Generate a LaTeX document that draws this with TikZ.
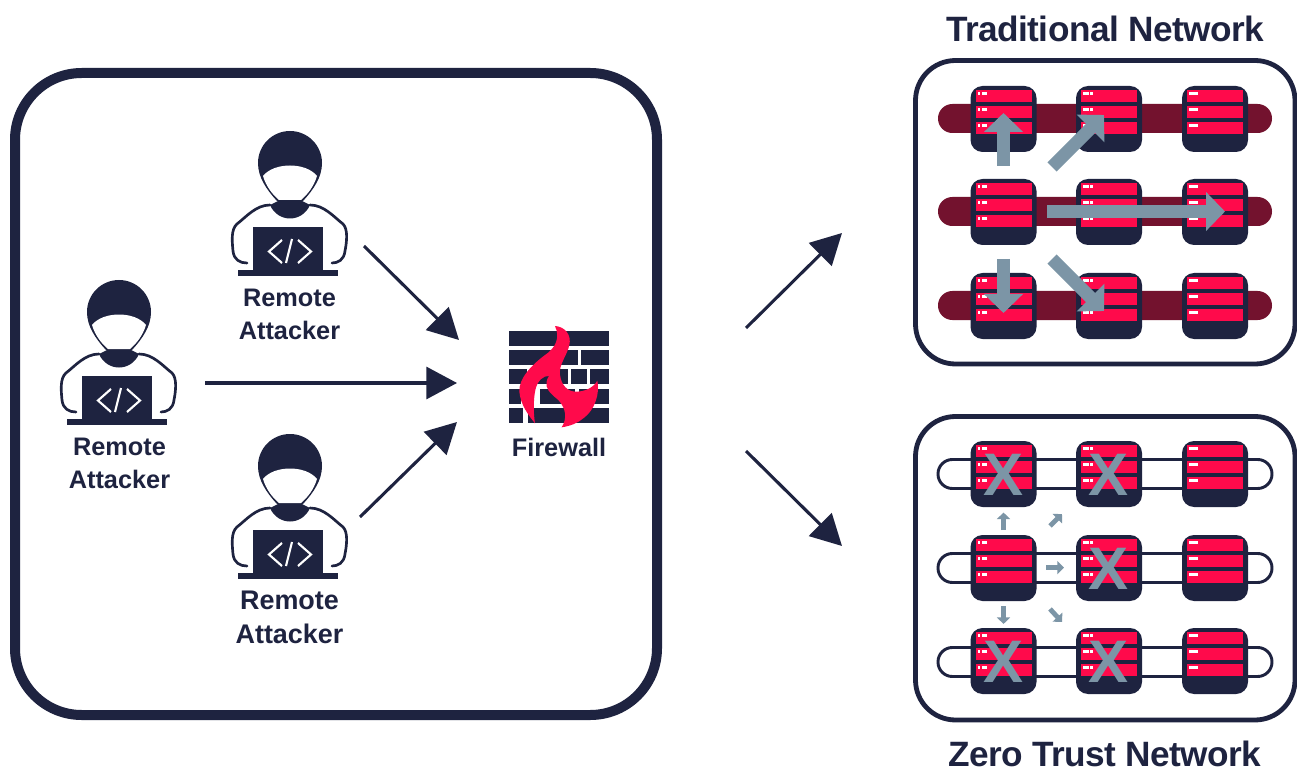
\documentclass[tikz,border=0pt]{standalone}
\usepackage{fontspec}
\setmainfont{Liberation Sans}
\usetikzlibrary{arrows.meta}
\definecolor{navy}{HTML}{1E2340}
\definecolor{fwred}{HTML}{FF0A4B}
\definecolor{maroon}{HTML}{73122E}
\definecolor{slate}{HTML}{7C95A6}
\tikzset{
  x=.75pt,y=-.75pt,
  lbl/.style={text=navy,align=center,inner sep=0pt,font=\bfseries\fontsize{19}{24.7}\selectfont},
  ttl/.style={text=navy,inner sep=0pt,font=\bfseries\fontsize{26.4}{30}\selectfont\addfontfeatures{LetterSpace=-1.5}},
  conn/.style={navy,line width=2.3pt,-{Triangle[length=23pt,width=24pt]}},
  bigarrow/.style={slate,line width=9.75pt,-{Triangle[length=14.25pt,width=28.5pt]}},
  smallarrow/.style={slate,line width=3.6pt,-{Triangle[length=5pt,width=9.75pt]}},
  cross/.style={text=slate,inner sep=0pt,font=\bfseries\fontsize{45}{45}\selectfont},
  frame/.style={draw=navy,fill=white},
  tile/.style={fill=navy,draw=none,rounded corners=9pt,minimum width=49.5pt,minimum height=49.5pt,inner sep=0pt},
  pics/attacker/.style={code={
    \fill[navy] (-32,0) arc[start angle=180,end angle=360,radius=32]
      .. controls (32,14) and (24,26) .. (13,38) -- (-13,38) .. controls (-24,26) and (-32,14) .. (-32,0) -- cycle;
    \fill[white] (-27,13) .. controls (-16,-1) and (16,-1) .. (27,13)
      .. controls (24,23) and (18,31) .. (11,37) -- (-11,37) .. controls (-18,31) and (-24,23) .. (-27,13) -- cycle;
    \fill[navy] (-12,38) -- (12,38) -- (20,42) .. controls (12,60) and (-12,60) .. (-20,42) -- cycle;
    \draw[navy,line width=2pt,line cap=round,line join=round]
      (-20,42) .. controls (-34,42) and (-44,54) .. (-53,61)
      .. controls (-59,66) and (-58,78) .. (-57,88) .. controls (-56,97) and (-50,100) .. (-43,100);
    \draw[navy,line width=2pt,line cap=round,line join=round]
      (20,42) .. controls (34,42) and (44,54) .. (53,61)
      .. controls (58,66) and (57,78) .. (55,88) .. controls (54,97) and (48,100) .. (42,100);
    \fill[navy] (-36.7,64) rectangle (33.3,107);
    \fill[navy] (-51.7,107) rectangle (48.3,113);
    \draw[white,line width=1.6pt] (-8,77) -- (-21,88.5) -- (-8,100);
    \draw[white,line width=1.6pt] (2,76) -- (-4,100);
    \draw[white,line width=1.6pt] (8,77) -- (21,88.5) -- (8,100);
  }},
  pics/marksL/.style={code={
    \fill[white] (-26,-27) rectangle (-23.3,-24);
    \fill[white] (-22,-27) rectangle (-16.3,-24);
  }},
  pics/marksR/.style={code={
    \fill[white] (-26,-27) rectangle (-20,-24);
    \fill[white] (-19,-27) rectangle (-16,-24);
  }},
  pics/marksS/.style={code={
    \fill[white] (-26,-27) rectangle (-17,-24);
  }},
}
\newcommand{\srv}[4]{%
  \node[tile] (#1) at (#2,#3) {};
  \begin{scope}[shift={(#2,#3)}]
    \foreach \d in {0,16,32}{
      \fill[fwred] (-28,-29+\d) rectangle (28,-17+\d);
      \begin{scope}[shift={(0,\d)}]
        \pic {#4};
      \end{scope}
    }
  \end{scope}
}
\begin{document}
\begin{tikzpicture}
\useasboundingbox (0,0) rectangle (1297,770);
\fill[white] (0,0) rectangle (1297,770);

% left frame
\draw[frame,line width=7.5pt,rounded corners=50pt] (15,73) rectangle (657,715);

% attackers
\pic at (290,163) {attacker};
\pic at (119,312) {attacker};
\pic at (290,466) {attacker};
\node[lbl] (labA) at (289.5,314.5) {Remote\\Attacker};
\node[lbl] (labB) at (119.5,463.5) {Remote\\Attacker};
\node[lbl,font=\bfseries\fontsize{20.2}{25.5}\selectfont] (labC) at (289.5,617.5) {Remote\\Attacker};

% firewall
\begin{scope}[shift={(490,310)},x=.25pt,y=-.25pt]
  \fill[navy] (57,63) rectangle (357,107);
  \fill[navy] (57,120) rectangle (263,165);
  \fill[navy] (273,120) rectangle (357,165);
  \fill[navy] (57,177) rectangle (112,222);
  \fill[navy] (125,177) rectangle (233,222);
  \fill[navy] (243,177) rectangle (290,222);
  \fill[navy] (300,177) rectangle (357,222);
  \fill[navy] (57,237) rectangle (92,282);
  \fill[navy] (150,237) rectangle (255,282);
  \fill[navy] (267,237) rectangle (357,282);
  \fill[navy] (57,295) rectangle (100,340);
  \fill[navy] (113,295) rectangle (357,340);
  \fill[fwred] (195,48) .. controls (225,50) and (245,75) .. (238,105)
    .. controls (232,135) and (205,165) .. (210,195)
    .. controls (214,225) and (232,245) .. (258,245)
    .. controls (285,245) and (312,232) .. (322,212)
    .. controls (330,250) and (315,300) .. (280,325)
    .. controls (262,340) and (240,348) .. (215,352)
    .. controls (232,325) and (228,295) .. (205,270)
    .. controls (180,250) and (165,235) .. (170,215)
    .. controls (172,205) and (175,200) .. (178,198)
    .. controls (160,196) and (142,212) .. (136,240)
    .. controls (130,270) and (130,310) .. (135,340)
    .. controls (115,315) and (92,285) .. (88,245)
    .. controls (86,205) and (125,165) .. (165,135)
    .. controls (195,115) and (212,85) .. (195,48) -- cycle;
\end{scope}
\node[lbl] (fwlab) at (559,447) {Firewall};

% connector ends
\coordinate (a1) at (364,246); \coordinate (f1) at (459,340);
\coordinate (a2) at (205,383); \coordinate (f2) at (457,383);
\coordinate (a3) at (360,517); \coordinate (f3) at (457,422);
\coordinate (o1) at (746,328); \coordinate (t1) at (842,233);
\coordinate (o2) at (746,451); \coordinate (t2) at (842,546);
\draw[conn] (a1) -- (f1);
\draw[conn] (a2) -- (f2);
\draw[conn] (a3) -- (f3);
\draw[conn] (o1) -- (t1);
\draw[conn] (o2) -- (t2);

% titles
\node[ttl,anchor=base] (ttlA) at (1105,42) {Traditional Network};
\node[ttl,anchor=base] (ttlB) at (1105,766) {Zero Trust Network};

% right frames
\draw[frame,line width=3.6pt,rounded corners=30pt] (915.5,60.5) rectangle (1295,364);
\draw[frame,line width=3.6pt,rounded corners=30pt] (915.5,416.5) rectangle (1295,720);

% traditional network
\foreach \y in {118.5,211.5,305.5}
  \fill[maroon,rounded corners=10.8pt] (938,\y-14.5) rectangle (1272,\y+14.5);
\foreach \r/\y in {1/119,2/212,3/306}{
  \srv{ta\r}{1003.5}{\y}{marksL}
  \srv{tb\r}{1109}{\y}{marksR}
  \srv{tc\r}{1215}{\y}{marksS}
}
\coordinate (u0) at (1003.5,166); \coordinate (u1) at (1003.5,113);
\coordinate (v0) at (1052,167); \coordinate (v1) at (1104,115);
\coordinate (w0) at (1047,211.5); \coordinate (w1) at (1225,211.5);
\coordinate (p0) at (1003.5,259); \coordinate (p1) at (1003.5,313);
\coordinate (q0) at (1052,259); \coordinate (q1) at (1104,311);
\draw[bigarrow] (u0) -- (u1);
\draw[bigarrow] (v0) -- (v1);
\draw[bigarrow] (w0) -- (w1);
\draw[bigarrow] (p0) -- (p1);
\draw[bigarrow] (q0) -- (q1);

% zero trust network
\foreach \y in {474,568,662}
  \draw[navy,line width=2.2pt,rounded corners=10.8pt] (938,\y-14.5) rectangle (1272,\y+14.5);
\foreach \r/\y in {1/474,2/568,3/661}{
  \srv{za\r}{1003.5}{\y}{marksL}
  \srv{zb\r}{1109}{\y}{marksR}
  \srv{zc\r}{1215}{\y}{marksS}
}
\node[cross] (x1) at (1003.5,474.5) {X};
\node[cross] (x2) at (1109,474.5) {X};
\node[cross] (x3) at (1109,568.5) {X};
\node[cross] (x4) at (1003.5,661.5) {X};
\node[cross] (x5) at (1109,661.5) {X};
\coordinate (su0) at (1003.5,530); \coordinate (su1) at (1003.5,512.5);
\coordinate (sv0) at (1050,526); \coordinate (sv1) at (1062,514);
\coordinate (sw0) at (1046,567.7); \coordinate (sw1) at (1064,567.7);
\coordinate (sp0) at (1003.5,606); \coordinate (sp1) at (1003.5,624);
\coordinate (sq0) at (1050,609); \coordinate (sq1) at (1062,622);
\draw[smallarrow] (su0) -- (su1);
\draw[smallarrow] (sv0) -- (sv1);
\draw[smallarrow] (sw0) -- (sw1);
\draw[smallarrow] (sp0) -- (sp1);
\draw[smallarrow] (sq0) -- (sq1);
\end{tikzpicture}
\end{document}
